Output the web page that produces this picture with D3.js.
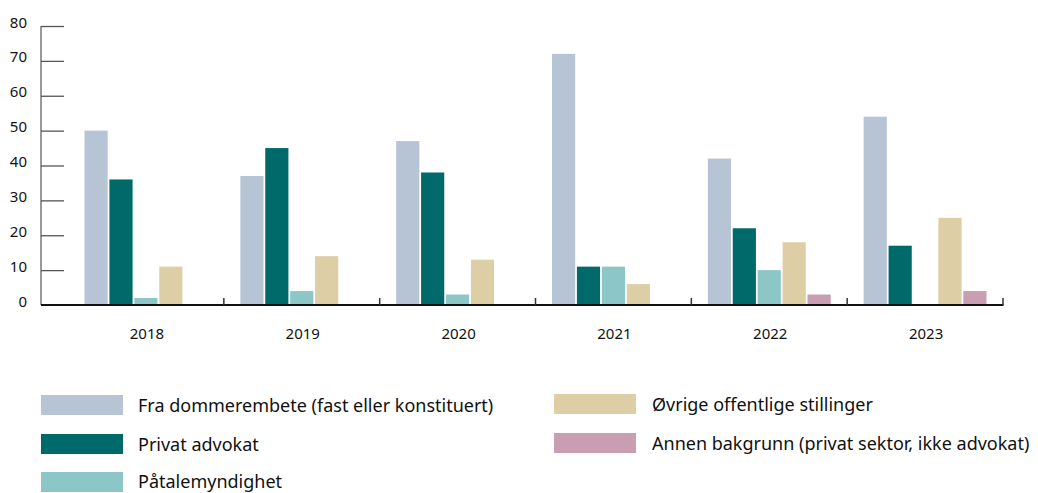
<!DOCTYPE html>
<html>
<head>
<meta charset="utf-8">
<script src="https://cdn.jsdelivr.net/npm/d3@7"></script>
<style>
  body { margin: 0; background: #fff; }
  svg { display: block; font-family: "Noto Sans", "Open Sans", sans-serif; }
</style>
</head>
<body>
<div id="chart"></div>
<script>
// ===== data =====
const years = ['2018', '2019', '2020', '2021', '2022', '2023'];
const seriesNames = [
  'Fra dommerembete (fast eller konstituert)',
  'Privat advokat',
  'Påtalemyndighet',
  'Øvrige offentlige stillinger',
  'Annen bakgrunn (privat sektor, ikke advokat)'
];
const fraDommer = [50, 37, 47, 72, 42, 54];
const privatAdvokat = [36, 45, 38, 11, 22, 17];
const paatale = [2, 4, 3, 11, 10, 0];
const ovrige = [11, 14, 13, 6, 18, 25];
const annen = [0, 0, 0, 0, 3, 4];
const yTicks = [0, 10, 20, 30, 40, 50, 60, 70, 80];

const colors = ['#b6c4d6', '#006a6b', '#8cc6c6', '#decea5', '#c99db2'];
const seriesValues = [fraDommer, privatAdvokat, paatale, ovrige, annen];

const width = 1038, height = 493;
const svg = d3.select('#chart').append('svg')
  .attr('width', width).attr('height', height);

// scales
const x0 = d3.scaleBand().domain(years).range([68, 1003]);
const x1 = d3.scaleBand().domain(d3.range(seriesNames.length))
  .range([16.5, x0.bandwidth() - 16.5]).paddingInner(0.07);
const y = d3.scaleLinear().domain([0, 80]).range([305, 26]);

// bars
const groups = svg.append('g').selectAll('g')
  .data(years).join('g')
  .attr('transform', d => `translate(${x0(d)},0)`);

groups.selectAll('rect')
  .data((yr, i) => seriesValues.map((s, k) => ({ k, v: s[i] })).filter(d => d.v > 0))
  .join('rect')
  .attr('x', d => x1(d.k))
  .attr('width', x1.bandwidth())
  .attr('y', d => y(d.v))
  .attr('height', d => y(0) - y(d.v))
  .attr('fill', d => colors[d.k]);

// y axis (ticks run to the right of the line)
const yAxis = svg.append('g').attr('transform', 'translate(41,0)')
  .call(d3.axisRight(y).tickValues(yTicks.filter(t => t > 0)).tickSize(23).tickFormat(''));
yAxis.select('.domain').attr('stroke', '#777').attr('stroke-width', 1.5)
  .attr('d', `M0,${y(80)}V${y(0)}`);
yAxis.selectAll('.tick line').attr('stroke', '#555').attr('stroke-width', 1.3);

svg.append('g').selectAll('text')
  .data(yTicks).join('text')
  .attr('x', 27).attr('y', d => y(d) + 1.5)
  .attr('text-anchor', 'end')
  .attr('font-size', 15).attr('fill', '#111')
  .text(d => d);

// x axis
const xAxis = svg.append('g').attr('transform', `translate(0,${y(0)})`);
xAxis.append('line')
  .attr('x1', 41).attr('x2', 1003.5)
  .attr('stroke', '#111').attr('stroke-width', 2);
xAxis.selectAll('.sep')
  .data(years).join('line')
  .attr('class', 'sep')
  .attr('x1', d => x0(d) + x0.bandwidth()).attr('x2', d => x0(d) + x0.bandwidth())
  .attr('y1', -7).attr('y2', 0)
  .attr('stroke', '#333').attr('stroke-width', 1.5);
xAxis.selectAll('text')
  .data(years).join('text')
  .attr('x', d => x0(d) + x0.bandwidth() / 2 + 1)
  .attr('y', 34)
  .attr('text-anchor', 'middle')
  .attr('font-size', 15).attr('fill', '#111')
  .text(d => d);

// legend
const legendPos = [
  { x: 41, y: 395 }, { x: 41, y: 434 }, { x: 41, y: 472 },
  { x: 554, y: 394 }, { x: 554, y: 433 }
];
const legend = svg.append('g').selectAll('g')
  .data(seriesNames).join('g')
  .attr('transform', (d, i) => `translate(${legendPos[i].x},${legendPos[i].y})`);
legend.append('rect')
  .attr('width', 82).attr('height', 20)
  .attr('fill', (d, i) => colors[i]);
legend.append('text')
  .attr('x', (d, i) => i < 3 ? 97 : 98)
  .attr('y', (d, i) => i === 2 ? 16 : 17)
  .attr('font-size', 18).attr('fill', '#111')
  .text(d => d);
</script>
</body>
</html>
